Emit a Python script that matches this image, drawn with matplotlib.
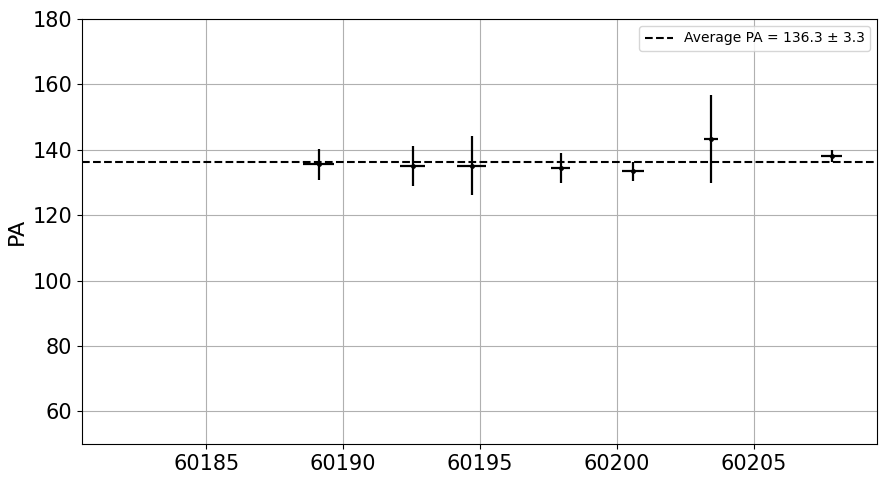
import numpy as np
import matplotlib
matplotlib.use('Agg')
import matplotlib.pyplot as plt

# PA measurements per epoch (MJD)
mjd = [60189.11, 60192.54, 60194.69, 60197.95, 60200.58, 60203.43, 60207.83]
mjd_err = [0.57, 0.45, 0.52, 0.35, 0.40, 0.24, 0.38]
pa = [135.5, 135.1, 135.1, 134.4, 133.5, 143.3, 138.1]
pa_err = [4.6, 6.2, 9.0, 4.6, 2.9, 13.5, 1.7]

avg_pa = 136.3
avg_pa_err = 3.3

fig = plt.figure(figsize=(8.85, 4.82), dpi=100)
ax = fig.add_axes([0.0927, 0.0788, 0.8983, 0.8818])

ax.errorbar(mjd, pa, xerr=mjd_err, yerr=pa_err, fmt='.', color='black',
            ecolor='black', elinewidth=1.6, markersize=5)
ax.axhline(avg_pa, color='black', linestyle='--', linewidth=1.5,
           label=f'Average PA = {avg_pa} ± {avg_pa_err}')

ax.set_xlim(60180.47, 60209.49)
ax.set_ylim(50, 180)
ax.set_ylabel('PA', fontsize=16)
ax.tick_params(labelsize=15)
ax.ticklabel_format(useOffset=False, axis='x')
ax.grid(True)
ax.set_axisbelow(True)
ax.legend(loc='upper right')

plt.savefig('out.png', dpi=100)
